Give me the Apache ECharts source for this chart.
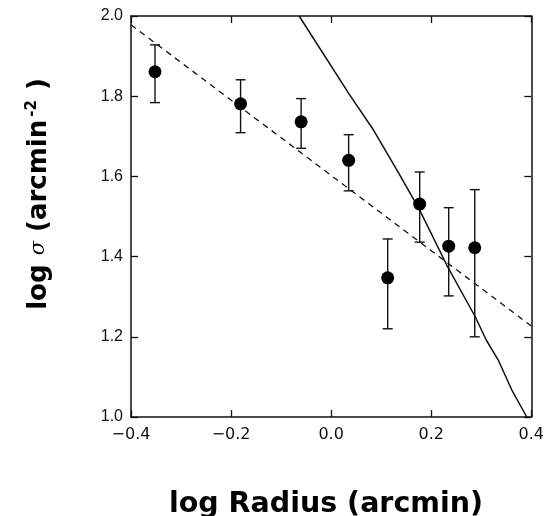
<!DOCTYPE html>
<html>
<head>
<meta charset="utf-8">
<script src="https://cdn.jsdelivr.net/npm/echarts@6/dist/echarts.min.js"></script>
<style>html,body{margin:0;padding:0;background:#fff;}#c{width:547px;height:516px;}</style>
</head>
<body>
<div id="c"></div>
<script>
// Data
var radius = [-0.352, -0.181, -0.060, 0.035, 0.113, 0.177, 0.235, 0.287];
var sigma  = [1.861, 1.781, 1.736, 1.640, 1.347, 1.531, 1.426, 1.422];
var errHi  = [1.928, 1.841, 1.794, 1.704, 1.444, 1.611, 1.522, 1.567];
var errLo  = [1.784, 1.709, 1.670, 1.564, 1.220, 1.436, 1.302, 1.200];
var fitX   = [-0.4, 0.4];
var fitY   = [1.978, 1.227];
var modelX = [-0.064, 0.036, 0.085, 0.135, 0.177, 0.231, 0.288, 0.310, 0.334, 0.362, 0.391];
var modelY = [2.000, 1.805, 1.715, 1.608, 1.516, 1.379, 1.250, 1.192, 1.142, 1.065, 1.000];
var xTickLabels = ['\u22120.4', '\u22120.2', '0.0', '0.2', '0.4'];
var yTickLabels = ['1.0', '1.2', '1.4', '1.6', '1.8', '2.0'];

function zip(a, b) { return a.map(function (v, i) { return [v, b[i]]; }); }

var chart = echarts.init(document.getElementById('c'), null, {renderer: 'canvas'});
var axisLine = {show: true, onZero: false, lineStyle: {color: '#111', width: 1.5}};
var tickIn = {show: true, inside: true, length: 7, lineStyle: {color: '#111', width: 1.3}};

var option = {
  animation: false,
  backgroundColor: '#fff',
  grid: {left: 131, right: 14, top: 16, bottom: 99, containLabel: false},
  xAxis: [{
    type: 'value', min: -0.4, max: 0.4, interval: 0.2, position: 'bottom',
    axisLine: axisLine, axisTick: tickIn, splitLine: {show: false},
    axisLabel: {margin: 10, showMinLabel: true, showMaxLabel: true,
      color: '#111', fontSize: 16, fontFamily: '"DejaVu Sans", sans-serif',
      formatter: function (v) { return xTickLabels[Math.round((v + 0.4) / 0.2)]; }}
  }, {
    type: 'value', min: -0.4, max: 0.4, interval: 0.2, position: 'top',
    axisLine: axisLine, axisTick: tickIn, splitLine: {show: false}, axisLabel: {show: false}
  }],
  yAxis: [{
    type: 'value', min: 1.0, max: 2.0, interval: 0.2, position: 'left',
    axisLine: axisLine, axisTick: tickIn, splitLine: {show: false},
    axisLabel: {margin: 8, showMinLabel: true, showMaxLabel: true,
      color: '#111', fontSize: 16, fontFamily: '"Liberation Sans", Arial, sans-serif',
      formatter: function (v) { return yTickLabels[Math.round((v - 1.0) / 0.2)]; }}
  }, {
    type: 'value', min: 1.0, max: 2.0, interval: 0.2, position: 'right',
    axisLine: axisLine, axisTick: tickIn, splitLine: {show: false}, axisLabel: {show: false}
  }],
  series: [{
    type: 'line', data: zip(fitX, fitY), showSymbol: false, symbol: 'none',
    lineStyle: {color: '#111', width: 1.3, type: [6, 5]}, z: 2
  }, {
    type: 'line', data: zip(modelX, modelY), showSymbol: false, symbol: 'none',
    lineStyle: {color: '#111', width: 1.5}, z: 2
  }, {
    type: 'custom',
    data: radius.map(function (x, i) { return [x, errLo[i], errHi[i]]; }),
    renderItem: function (params, api) {
      var lo = api.coord([api.value(0), api.value(1)]);
      var hi = api.coord([api.value(0), api.value(2)]);
      var w = 5;
      var st = {stroke: '#111', lineWidth: 1.4};
      return {type: 'group', children: [
        {type: 'line', shape: {x1: lo[0], y1: lo[1], x2: hi[0], y2: hi[1]}, style: st},
        {type: 'line', shape: {x1: hi[0] - w, y1: hi[1], x2: hi[0] + w, y2: hi[1]}, style: st},
        {type: 'line', shape: {x1: lo[0] - w, y1: lo[1], x2: lo[0] + w, y2: lo[1]}, style: st}
      ]};
    },
    z: 3
  }, {
    type: 'scatter', data: zip(radius, sigma), symbol: 'circle', symbolSize: 13,
    itemStyle: {color: '#000', opacity: 1}, z: 4
  }],
  graphic: [{
    type: 'text', x: 326, y: 505,
    style: {text: 'log Radius (arcmin)', fill: '#000', font: 'bold 28.5px "DejaVu Sans", sans-serif',
      align: 'center', verticalAlign: 'middle'}
  }, {
    type: 'text', x: 39, y: 194, rotation: Math.PI / 2,
    style: {
      text: '{b|log }{s|\u03c3}{b| (arcmin}{p|-2}{b| )}',
      align: 'center', verticalAlign: 'middle', fill: '#000',
      rich: {
        b: {font: 'bold 26px "DejaVu Sans", sans-serif', fill: '#000'},
        s: {font: 'italic 21px "DejaVu Serif", serif', fill: '#000'},
        p: {font: 'bold 15px "DejaVu Sans", sans-serif', fill: '#000', padding: [0, 1, 14, 3]}
      }
    }
  }]
};
chart.setOption(option);
</script>
</body>
</html>
